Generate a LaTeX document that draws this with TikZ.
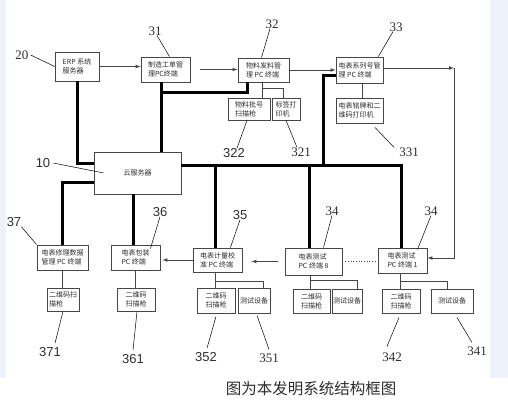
\documentclass[tikz,border=0pt]{standalone}
\usepackage{fontspec}
\setmainfont{Noto Sans CJK SC}
\newfontfamily\numsans{Liberation Sans}
\newfontfamily\numserif{Liberation Serif}
\usetikzlibrary{calc}
\definecolor{bgblue}{RGB}{238,242,250}
\definecolor{boxgray}{RGB}{70,70,70}
\definecolor{txtgray}{RGB}{45,45,45}
\tikzset{
  unit/.style={draw=boxgray, line width=0.9pt, fill=white, align=left, inner sep=1pt,
    font=\fontsize{7}{9}\selectfont, text=txtgray},
  sz/.style 2 args={minimum width=#1pt, minimum height=#2pt},
  bus/.style={line width=3pt},
  link/.style={draw=boxgray, line width=0.7pt},
  arr/.style={link, -latex},
  lead/.style={draw=black, line width=0.5pt},
  numA/.style={inner sep=0pt, text=txtgray, font=\numsans\fontsize{13}{13}\selectfont},
  numB/.style={inner sep=0pt, text=txtgray, font=\numserif\fontsize{13}{13}\selectfont}
}

\begin{document}
\begin{tikzpicture}[x=1pt, y=-1pt]
        \useasboundingbox (0,0) rectangle (508,414);
        \fill[bgblue] (0,0) rectangle (6,378);
        \fill[bgblue] (490,0) rectangle (508,378);

        % upper row
        \node[unit, sz={44}{29}] (erp) at (77,66.5) {ERP 系统\\服务器};
        \node[unit, sz={49}{25}] (mfg) at (165.5,69.5) {制造工单管\\理PC终端};
        \node[unit, sz={51}{24}] (mat) at (263.5,70) {物料发料管\\理 PC 终端};
        \node[unit, sz={42}{22}] (scan322) at (249,109) {物料批号\\扫描枪};
        \node[unit, sz={28}{22}] (prn321) at (286,109) {标签打\\印机};
        \node[unit, sz={47}{26}] (ser) at (359.5,70) {电表系列号管\\理 PC 终端};
        \node[unit, sz={47}{25}] (prn331) at (359.5,110.5) {电表铭牌和二\\维码打印机};
        \node[unit, sz={87}{42}] (cloud) at (137.5,173) {云服务器};

        % lower row
        \node[unit, sz={51}{25}] (rep) at (62.5,257.5) {电表修理数据\\管理 PC 终端};
        \node[unit, sz={32}{23}] (scan371) at (63,299.5) {二维码扫\\描枪};
        \node[unit, sz={49}{25}] (pack) at (135.5,257.5) {电表包装\\PC 终端};
        \node[unit, sz={38}{23}] (scan361) at (136,299.5) {二维码\\扫描枪};
        \node[unit, sz={49}{24}] (cal) at (217.5,260) {电表计量校\\准 PC 终端};
        \node[unit, sz={38}{25}] (scan352) at (216,300.5) {二维码\\扫描枪};
        \node[unit, sz={32}{25}] (dev351) at (254,300.5) {测试设备};
        \node[unit, sz={57}{27}] (test8) at (313.5,261.5) {电表测试\\PC 终端 8};
        \node[unit, sz={37}{24}] (scan8) at (311.5,301) {二维码\\扫描枪};
        \node[unit, sz={30}{24}] (dev8) at (347,301) {测试设备};
        \node[unit, sz={49}{25}] (test1) at (402.5,260.5) {电表测试\\PC 终端 1};
        \node[unit, sz={38}{24}] (scan1) at (401,301) {二维码\\扫描枪};
        \node[unit, sz={42}{24}] (dev1) at (452,301) {测试设备};

        % thick network lines
        \coordinate (j31) at (161,93);
        \coordinate (busA) at (323,166);
        \coordinate (turn) at (454,68);
        \draw[bus] (erp.south) |- ([yshift=9pt]cloud.west);
        \draw[bus] (j31 |- mfg.south) -- (j31 |- cloud.north);
        \draw[bus] ([xshift=-16pt]mat.south) |- (j31);
        \draw[bus] ([yshift=7pt]cloud.east) -| ([xshift=-1.5pt]test1.north);
        \draw[bus] ([yshift=-6pt]ser.west) -| (busA);
        \draw[bus] ([xshift=-4.5pt]test8.north) -- ([xshift=-4.5pt]test8.north |- busA);
        \draw[bus] ([xshift=-2.5pt]cal.north) -- ([xshift=-2.5pt]cal.north |- busA);
        \draw[bus] ([yshift=-9pt]cloud.west) -| (rep.north);
        \draw[bus] ([xshift=-4.5pt]cloud.south) -- ([xshift=-4.5pt]cloud.south |- pack.north);

        % thin links and arrows
        \draw[arr] (erp.east) -- (erp.east -| mfg.west);
        \draw[arr, shorten <=10pt] (mfg.east) -- (mfg.east -| mat.west);
        \draw[arr] (mat.east) -- (mat.east -| ser.west);
        \draw[arr] ([yshift=2pt]ser.east) -- (turn);
        \draw[arr] (turn) |- ([yshift=2.5pt]test1.east);
        \draw[arr, shorten <=7pt, shorten >=9pt] (test8.west) -- (test8.west -| cal.east);
        \draw[arr, shorten >=2pt] (cal.west) -- (cal.west -| pack.east);
        \draw[link, dotted] (test8.east) -- (test8.east -| test1.west);
        \draw[link] ([xshift=3pt]ser.south) -- ([xshift=3pt]ser.south |- prn331.north);
        \draw[link] ([xshift=-1.5pt]mat.south) -- ([xshift=-1.5pt]mat.south |- scan322.north);
        \draw[link] ([xshift=-1.5pt,yshift=-6pt]mat.south) -| ([xshift=-3pt]prn321.north);
        \draw[link] (rep.south) -- (rep.south |- scan371.north);
        \draw[link] (pack.south) -- (pack.south |- scan361.north);
        \draw[link] ([xshift=-2pt]cal.south) -- ([xshift=-2pt]cal.south |- scan352.north);
        \draw[link] ([xshift=-2pt,yshift=-9pt]cal.south) -| ([xshift=9pt]dev351.north);
        \draw[link] ([xshift=-3.5pt]test8.south) -- ([xshift=-3.5pt]test8.south |- scan8.north);
        \draw[link] ([xshift=-3.5pt,yshift=-5pt]test8.south) -| ([xshift=10pt]dev8.north);
        \draw[link] ([xshift=-2.5pt]test1.south) -- ([xshift=-2.5pt]test1.south |- scan1.north);
        \draw[link] ([xshift=-2.5pt,yshift=-8pt]test1.south) -| ([xshift=-5pt]dev1.north);

        % reference numbers
        \node[numB] (l20) at (22,55) {20};
        \node[numB] (l31) at (155,31) {31};
        \node[numB] (l32) at (272,24) {32};
        \node[numB] (l33) at (396,27) {33};
        \node[numA] (l322) at (234,153) {322};
        \node[numB] (l321) at (301,152) {321};
        \node[numB] (l331) at (409,152) {331};
        \node[numA] (l10) at (43,163) {10};
        \node[numA] (l37) at (14,222) {37};
        \node[numA] (l36) at (160,212) {36};
        \node[numA] (l35) at (240,215) {35};
        \node[numB] (l34b) at (332,211) {34};
        \node[numB] (l34a) at (431,211) {34};
        \node[numA] (l371) at (50,352) {371};
        \node[numA] (l361) at (133,359) {361};
        \node[numA] (l352) at (206,357) {352};
        \node[numB] (l351) at (269,358) {351};
        \node[numB] (l342) at (392,357) {342};
        \node[numB] (l341) at (477,351) {341};

        % leader lines
        \draw[lead] ([xshift=2pt]l20.east) -- (erp.west);
        \draw[lead] ([xshift=2pt]l31.south) -- ([xshift=4pt]mfg.north);
        \draw[lead] ([xshift=-2pt]l32.south) -- ([xshift=-2pt]mat.north);
        \draw[lead] ([xshift=-3pt]l33.south) -- ([xshift=-5pt]ser.north east);
        \draw[lead] ([xshift=-2pt]scan322.south) -- ([xshift=3pt]l322.north);
        \draw[lead] (prn321.south) -- ([xshift=-4pt]l321.north);
        \draw[lead] ([xshift=15.5pt,yshift=-4pt]prn331.south) -- ([xshift=-5pt]l331.north west);
        \draw[lead] ([xshift=3pt]l10.east) -- ([xshift=10pt]cloud.west);
        \draw[lead] (l37.south east) -- (rep.north west);
        \draw[lead] (l36.south) -- ([xshift=-10pt,yshift=-4pt]pack.north east);
        \draw[lead] (l35.south) -- ([xshift=-12pt]cal.north east);
        \draw[lead] (l34b.south) -- ([xshift=10pt]test8.north);
        \draw[lead] (l34a.south) -- ([xshift=-10pt,yshift=-2pt]test1.north east);
        \draw[lead] (scan371.south) -- ([xshift=5pt,yshift=4pt]l371.north);
        \draw[lead] ([xshift=1pt]scan361.south) -- ([yshift=4pt]l361.north);
        \draw[lead] ([yshift=-3pt]scan352.south) -- ([xshift=1pt,yshift=4pt]l352.north);
        \draw[lead] ([xshift=3pt,yshift=-2pt]dev351.south) -- ([yshift=4pt]l351.north);
        \draw[lead] ([xshift=-2pt,yshift=-4pt]scan1.south) -- ([xshift=-5pt,yshift=6pt]l342.north);
        \draw[lead] ([xshift=5pt,yshift=-4pt]dev1.south) -- ([xshift=-5pt,yshift=4pt]l341.north);

        % caption
        \node[text=txtgray, font=\fontsize{15.5}{16}\selectfont] (cap) at (311,389) {图为本发明系统结构框图};
    \end{tikzpicture}
\end{document}
